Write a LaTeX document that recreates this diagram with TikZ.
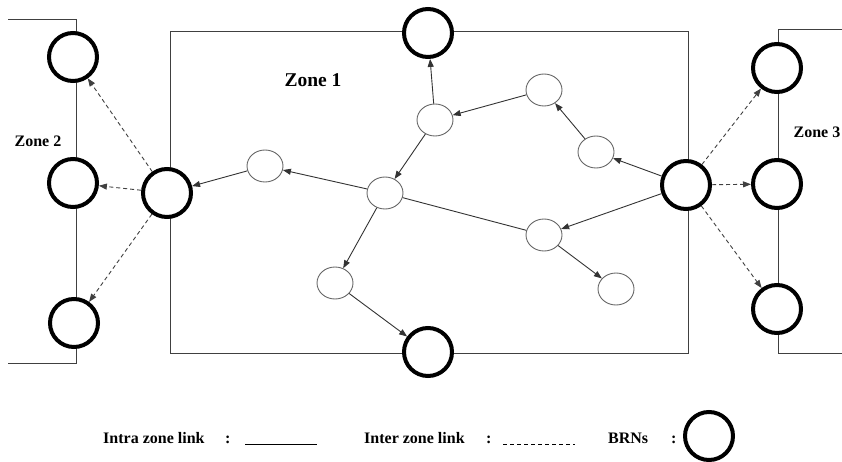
\documentclass[tikz,border=0pt]{standalone}
\usepackage{fontspec}
\setmainfont{Liberation Serif}
\usetikzlibrary{arrows.meta,shapes.geometric}
\begin{document}
\begin{tikzpicture}[x=1pt,y=-1pt,
  brn/.style={circle,draw=black,line width=4pt,minimum size=48pt,inner sep=0pt,fill=white},
  relay/.style={ellipse,draw=black!60,line width=0.9pt,minimum width=36pt,minimum height=32pt,inner sep=0pt,fill=white},
  border/.style={draw=black!75,line width=1pt},
  intra/.style={draw=black!80,line width=0.9pt,-{Triangle[length=8pt,width=6pt]}},
  inter/.style={draw=black!75,line width=0.9pt,dash pattern=on 4pt off 3pt,-{Triangle[length=8pt,width=6pt]}},
  zonelabel/.style={font=\bfseries\fontsize{16}{18}\selectfont},
  legendtext/.style={font=\bfseries\fontsize{16}{18}\selectfont,anchor=base west,inner sep=0pt}]
\useasboundingbox (0,0) rectangle (842,462);

% zone outlines
\draw[border] (170,32) rectangle (688,353);
\draw[border] (8,20) -- (76,20) -- (76,363) -- (8,363);
\draw[border] (842,30) -- (778,30) -- (778,353) -- (842,353);

% zone labels
\node[font=\bfseries\fontsize{19.5}{22}\selectfont] (z1) at (313,80) {Zone 1};
\node[zonelabel] (z2) at (38,141) {Zone 2};
\node[zonelabel] (z3) at (817,132) {Zone 3};

% border relay nodes
\node[brn] (a1) at (73,57) {};
\node[brn] (a2) at (73,183) {};
\node[brn] (a3) at (74,323) {};
\node[brn] (bl) at (167,193) {};
\node[brn] (bt) at (428,33) {};
\node[brn] (bb) at (428,352) {};
\node[brn] (br) at (686,185) {};
\node[brn] (c1) at (777,68) {};
\node[brn] (c2) at (777,184) {};
\node[brn] (c3) at (777,309) {};

% ordinary nodes of zone 1
\node[relay] (n1) at (265,166) {};
\node[relay] (n2) at (435,120) {};
\node[relay] (n3) at (544,90) {};
\node[relay] (n4) at (596,152) {};
\node[relay] (n5) at (385,193) {};
\node[relay] (n6) at (544,235) {};
\node[relay] (n7) at (616,289) {};
\node[relay] (n8) at (335,283) {};

% intra zone links
\draw[intra] (n1) -- (bl);
\draw[intra] (n5) -- (n1);
\draw[intra] (n2) -- (bt);
\draw[intra] (n3) -- (n2);
\draw[intra] (n4) -- (n3);
\draw[intra] (br) -- (n4);
\draw[intra] (br) -- (n6);
\draw[intra] (n2) -- (n5);
\draw[draw=black!80,line width=0.9pt] (n5) -- (n6);
\draw[intra] (n6) -- (n7);
\draw[intra] (n5) -- (n8);
\draw[intra] (n8) -- (bb);

% inter zone links
\draw[inter] (bl) -- (a1);
\draw[inter] (bl) -- (a2);
\draw[inter] (bl) -- (a3);
\draw[inter] (br) -- (c1);
\draw[inter] (br) -- (c2);
\draw[inter] (br) -- (c3);

% legend
\node[legendtext] (l1) at (103,443) {Intra zone link};
\node[legendtext] (l1c) at (225,443) {:};
\coordinate (s1) at (245,444);
\coordinate (s2) at (317,444);
\draw[line width=1pt] (s1) -- (s2);
\node[legendtext] (l2) at (364,443) {Inter zone link};
\node[legendtext] (l2c) at (486,443) {:};
\coordinate (d1) at (503,444);
\coordinate (d2) at (575,444);
\draw[line width=1pt,dash pattern=on 4pt off 3pt] (d1) -- (d2);
\node[legendtext] (l3) at (608,443) {BRNs};
\node[legendtext] (l3c) at (671,443) {:};
\node[brn] (lb) at (709,436) {};
\end{tikzpicture}
\end{document}
